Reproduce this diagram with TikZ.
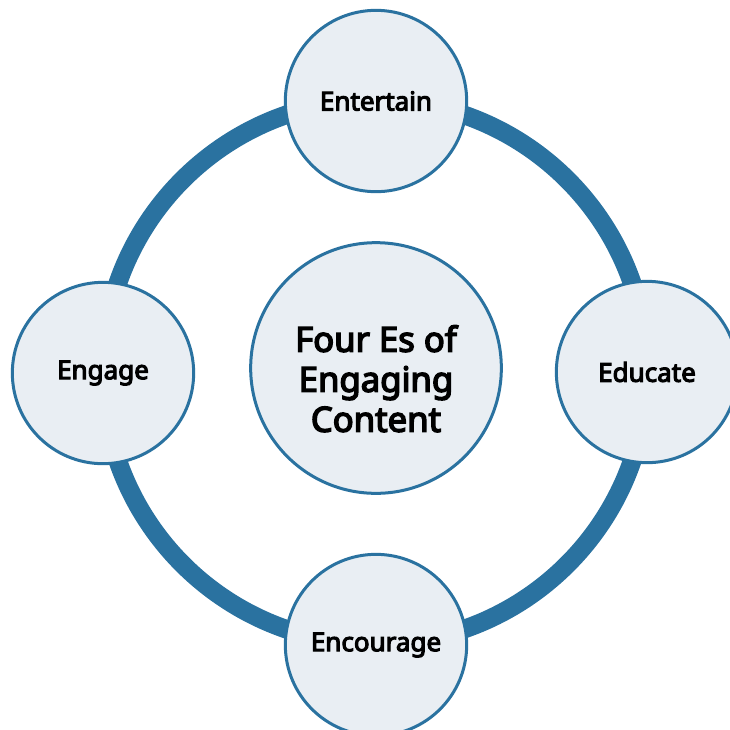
\documentclass[tikz,border=0pt]{standalone}
\usepackage{fontspec}
\setmainfont{Noto Sans}[BoldFont={Noto Sans}, BoldFeatures={FakeBold=4.2}]
\usepackage{tikz}
\usetikzlibrary{positioning}
\usepackage{xcolor}
\definecolor{ringblue}{HTML}{2A72A0}
\definecolor{bubblefill}{HTML}{E9EEF3}

\begin{document}
\begin{tikzpicture}[x=0.75pt, y=-0.75pt,
    bubble/.style={circle, draw=ringblue, line width=2.25pt, fill=bubblefill, minimum size=136pt, inner sep=0pt, align=center, font=\fontsize{19.5}{22}\selectfont\bfseries},
    hubbubble/.style={bubble, minimum size=188pt},
    hubtext/.style={align=center, inner sep=0pt, font=\fontsize{26}{30}\selectfont\bfseries}]
  \useasboundingbox (0,0) rectangle (730,729);
  \coordinate (ring) at (375,372);

  % --- Outer ring behind the bubbles ---
  \draw[ringblue, line width=14pt] (ring) circle[radius=204pt];

  % --- Four Es ---
  \node[bubble] (entertain) at (376,101) {Entertain};
  \node[bubble] (educate)   at (647,372) {Educate};
  \node[bubble] (encourage) at (376,645) {Encourage};
  \node[bubble] (engage)    at (103,373) {Engage};

  % --- Centre ---
  \node[hubbubble] (four) at (376,368) {};
  \node[hubtext] (fourtext) at ([yshift=-8pt]four.center) {Four Es of\\Engaging\\Content};
\end{tikzpicture}
\end{document}
